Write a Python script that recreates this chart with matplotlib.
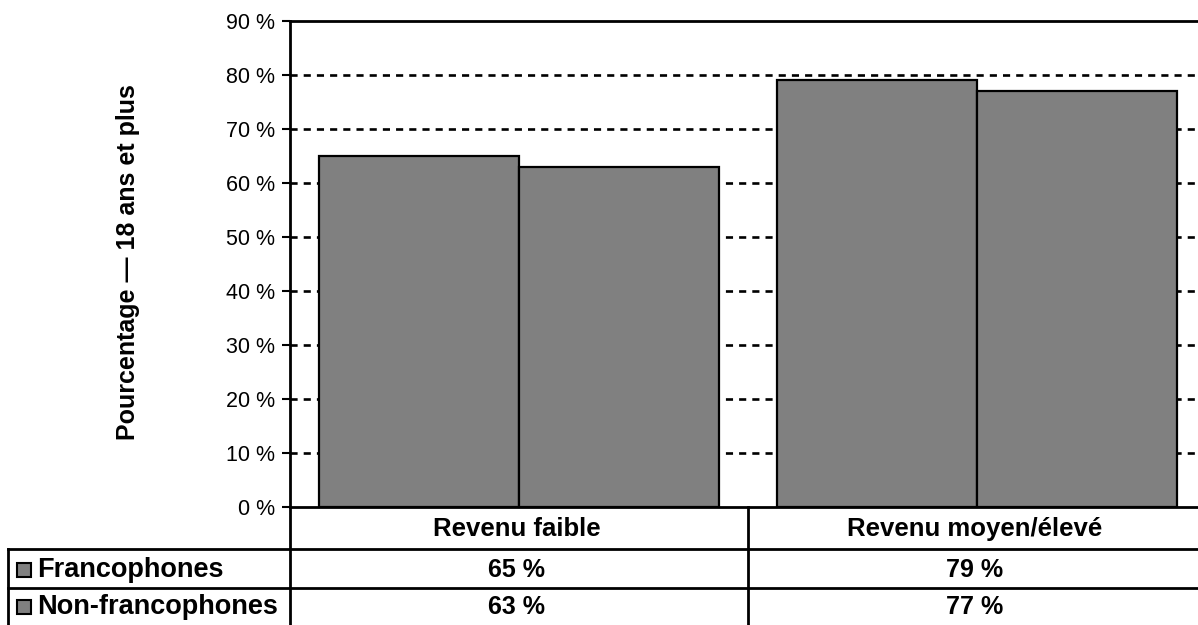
import matplotlib
matplotlib.use("Agg")
import matplotlib.pyplot as plt
from matplotlib.lines import Line2D
from matplotlib.patches import Rectangle
import numpy as np

plt.rcParams["font.family"] = ["Liberation Sans", "DejaVu Sans"]

categories = ["Revenu faible", "Revenu moyen/élevé"]
series = ["Francophones", "Non-francophones"]
francophones = [65, 79]
non_francophones = [63, 77]
y_ticks = [0, 10, 20, 30, 40, 50, 60, 70, 80, 90]
y_label = "Pourcentage — 18 ans et plus"

W, H = 1198, 625
fig = plt.figure(figsize=(W / 100, H / 100), dpi=100)

# axes run a little past the right edge of the picture, as in the source
ax_left, ax_right, ax_top, ax_bottom = 290, 1206, 21, 507
ax = fig.add_axes([ax_left / W, (H - ax_bottom) / H,
                   (ax_right - ax_left) / W, (ax_bottom - ax_top) / H])

x = np.arange(len(categories))
width = 0.437
bar_kw = dict(color="#808080", edgecolor="black", linewidth=1.6, zorder=3)
ax.bar(x - width / 2, francophones, width, **bar_kw)
ax.bar(x + width / 2, non_francophones, width, **bar_kw)

ax.set_xlim(-0.5, len(categories) - 0.5)
ax.set_ylim(0, 90)
ax.set_yticks(y_ticks)
ax.set_yticklabels(["{} %".format(v) for v in y_ticks], fontsize=15.5)
ax.set_xticks([])
for v in y_ticks[1:-1]:
    ax.axhline(v, color="black", lw=1.9, ls=(0, (2.7, 2.3)), zorder=1)
ax.spines["right"].set_visible(False)
for s in ["left", "top", "bottom"]:
    ax.spines[s].set_linewidth(2)
ax.tick_params(axis="y", direction="out", length=6, width=1.5, pad=5)

def fx(px):
    return px / W

def fy(py):
    return 1 - py / H

fig.text(fx(128), fy((ax_top + ax_bottom) / 2 - 2), y_label, rotation=90,
         ha="center", va="center", fontsize=18, fontweight="bold")

# table below the axes
row_lines = [549, 588]
lw = 2
fig.add_artist(Line2D([fx(ax_left), fx(ax_left)], [fy(ax_bottom), fy(H)],
                      color="black", lw=lw))
fig.add_artist(Line2D([fx(748), fx(748)], [fy(ax_bottom), fy(H)],
                      color="black", lw=lw))
fig.add_artist(Line2D([fx(8), fx(8)], [fy(row_lines[0]), fy(H)],
                      color="black", lw=lw))
for r in row_lines:
    fig.add_artist(Line2D([fx(8), fx(W)], [fy(r), fy(r)],
                          color="black", lw=lw))

col_centers = [517, 975]
row_centers = [529, 570, 607]
for cx, cat in zip(col_centers, categories):
    fig.text(fx(cx), fy(row_centers[0]), cat, ha="center", va="center",
             fontsize=18.5, fontweight="bold")
for i, (name, vals) in enumerate(zip(series, [francophones, non_francophones])):
    cy = row_centers[i + 1]
    fig.add_artist(Rectangle((fx(17), fy(cy + 7)), fx(14), 14 / H,
                             facecolor="#808080", edgecolor="black", lw=1.5))
    fig.text(fx(37), fy(cy), name, ha="left", va="center",
             fontsize=19.5, fontweight="bold")
    for cx, v in zip(col_centers, vals):
        fig.text(fx(cx), fy(cy), "{} %".format(v), ha="center", va="center",
                 fontsize=18, fontweight="bold")

fig.savefig("out.png", dpi=100)
